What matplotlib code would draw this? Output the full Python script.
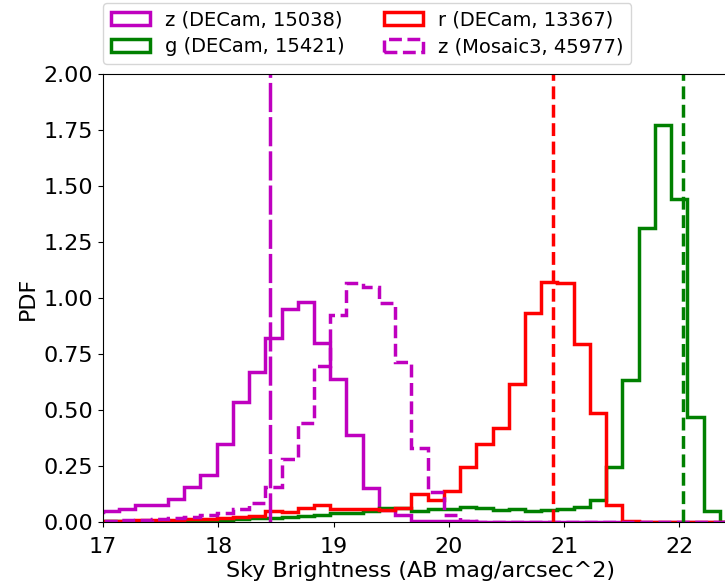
import numpy as np
import matplotlib
matplotlib.use('Agg')
import matplotlib.pyplot as plt
from matplotlib.ticker import FormatStrFormatter

# histogram bins (width ~0.14 mag), first bin starts just left of 17
bin_edges = 17 + 0.1408 * np.arange(-1, 42)

z_decam = [0.045, 0.050, 0.058, 0.076, 0.076, 0.101, 0.158, 0.211, 0.348, 0.537,
           0.668, 0.820, 0.950, 0.983, 0.800, 0.640, 0.388, 0.150, 0.055, 0.030,
           0.006, 0.005, 0.004, 0.003, 0.002, 0.001, 0, 0, 0, 0,
           0, 0, 0, 0, 0, 0, 0, 0, 0, 0, 0, 0]
g_decam = [0.002, 0.003, 0.003, 0.004, 0.004, 0.005, 0.006, 0.008, 0.010, 0.012,
           0.016, 0.018, 0.022, 0.027, 0.033, 0.040, 0.042, 0.048, 0.062, 0.063,
           0.050, 0.056, 0.060, 0.068, 0.061, 0.055, 0.057, 0.049, 0.054, 0.057,
           0.066, 0.100, 0.247, 0.634, 1.314, 1.772, 1.442, 0.470, 0.048, 0,
           0, 0]
r_decam = [0.005, 0.006, 0.006, 0.008, 0.009, 0.010, 0.012, 0.014, 0.018, 0.021,
           0.027, 0.050, 0.043, 0.061, 0.078, 0.060, 0.057, 0.057, 0.055, 0.061,
           0.125, 0.098, 0.138, 0.247, 0.347, 0.421, 0.615, 0.934, 1.073, 1.066,
           0.795, 0.487, 0.078, 0.003, 0, 0, 0, 0, 0, 0,
           0, 0]
z_mosaic = [0.005, 0.006, 0.008, 0.010, 0.013, 0.018, 0.024, 0.031, 0.042, 0.057,
            0.083, 0.158, 0.280, 0.443, 0.696, 0.924, 1.066, 1.050, 0.976, 0.716,
            0.329, 0.135, 0.031, 0.005, 0.002, 0, 0, 0, 0, 0,
            0, 0, 0, 0, 0, 0, 0, 0, 0, 0, 0, 0]

labels = ['z (DECam, 15038)', 'g (DECam, 15421)', 'r (DECam, 13367)', 'z (Mosaic3, 45977)']
medians = {'z': 18.45, 'r': 20.90, 'g': 22.03}

fig = plt.figure(figsize=(7.25, 5.87), dpi=100)
ax = fig.add_axes([103/725, 65/587, 634/725, 448/587])

centers = bin_edges[:-1]
ax.hist(centers, bins=bin_edges, weights=z_decam, histtype='step', color='m', lw=2.5, label=labels[0])
ax.hist(centers, bins=bin_edges, weights=g_decam, histtype='step', color='g', lw=2.5, label=labels[1])
ax.hist(centers, bins=bin_edges, weights=r_decam, histtype='step', color='r', lw=2.5, label=labels[2])
ax.hist(centers, bins=bin_edges, weights=z_mosaic, histtype='step', color='m', lw=2.5, ls='--', label=labels[3])

ax.axvline(medians['z'], color='m', lw=2.5, dashes=(8.4, 1.45))
ax.axvline(medians['r'], color='r', lw=2.5, ls='--')
ax.axvline(medians['g'], color='g', lw=2.5, ls='--')

ax.set_xlim(17, 22.5)
ax.set_ylim(0, 2)
ax.set_yticks(np.arange(0, 2.01, 0.25))
ax.yaxis.set_major_formatter(FormatStrFormatter('%.2f'))
ax.tick_params(labelsize=16)
ax.tick_params(axis='x', pad=7)
ax.set_xlabel('Sky Brightness (AB mag/arcsec^2)', fontsize=16, labelpad=3)
ax.set_ylabel('PDF', fontsize=16)

ax.legend(ncol=2, fontsize=14, loc='lower left', borderaxespad=0, labelspacing=0.4,
          bbox_to_anchor=(103/725, 1 - 64/587), bbox_transform=fig.transFigure)

fig.savefig('out.png', dpi=100)
